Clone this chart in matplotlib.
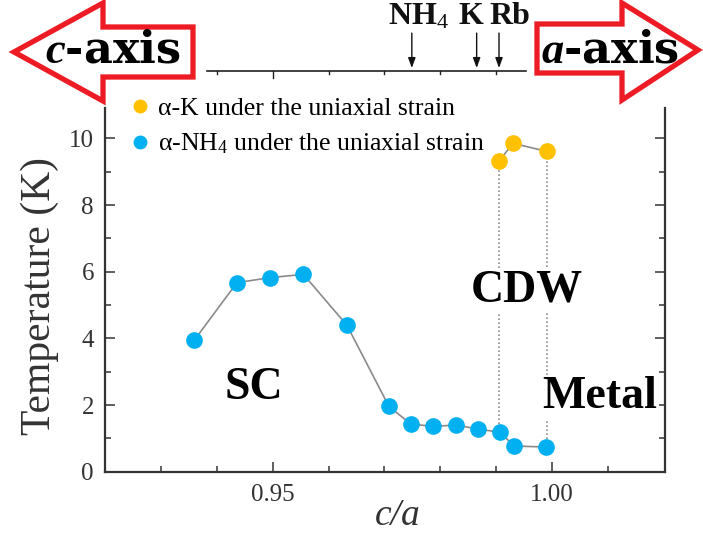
import numpy as np
import matplotlib
matplotlib.use('Agg')
import matplotlib.pyplot as plt
from matplotlib.patches import Polygon
from matplotlib.lines import Line2D

plt.rcParams['font.family'] = ['Liberation Serif', 'DejaVu Serif']
plt.rcParams['mathtext.fontset'] = 'custom'
plt.rcParams['mathtext.rm'] = 'Liberation Serif'
plt.rcParams['mathtext.it'] = 'Liberation Serif:italic:bold'

# data
nh4_ca = [0.9360, 0.9436, 0.9495, 0.9555, 0.9633, 0.9708, 0.9747,
          0.9787, 0.9828, 0.9868, 0.9907, 0.9932, 0.9989]
nh4_T = [3.95, 5.67, 5.82, 5.92, 4.39, 1.96, 1.43,
         1.36, 1.40, 1.28, 1.18, 0.77, 0.74]
k_ca = [0.9905, 0.9930, 0.9990]
k_T = [9.32, 9.85, 9.61]

# CDW boundaries: (c/a, lower T, upper T)
cdw_ca = [k_ca[0], k_ca[2]]
cdw_low = [nh4_T[10], nh4_T[12]]
cdw_high = [k_T[0], k_T[2]]

ion_names = ['NH$_4$', 'K', 'Rb']
ion_ca = [0.9749, 0.9865, 0.9905]
ion_dx = [5, -4, 8]   # label offsets in points

blue = '#00B0F0'
orange = '#FFC000'
red = '#ED1C24'

W, H = 703, 537
fig = plt.figure(figsize=(W / 100, H / 100), dpi=100)
ax = fig.add_axes([105 / W, 1 - 471.7 / H, 560 / W, 363.7 / H])

# dotted phase boundaries
ax.vlines(cdw_ca, cdw_low, cdw_high, colors='#8c8c8c', linestyles=(0, (1, 1.4)),
          linewidth=1.2, zorder=1)

ax.plot(nh4_ca, nh4_T, '-', color='#8a8a8a', lw=1.2, zorder=2)
ax.plot(k_ca, k_T, '-', color='#8a8a8a', lw=1.2, zorder=2)
ax.plot(nh4_ca, nh4_T, 'o', color=blue, ms=12, mec='none', zorder=4)
ax.plot(k_ca, k_T, 'o', color=orange, ms=12, mec='none', zorder=4)

# phase labels
box = dict(facecolor='white', edgecolor='none', pad=1)
ax.text(0.9466, 2.51, 'SC', fontsize=33, fontweight='bold', ha='center', va='center')
ax.text(0.9954, 5.45, 'CDW', fontsize=33, fontweight='bold', ha='center', va='center',
        bbox=box, zorder=3)
ax.text(1.0086, 2.24, 'Metal', fontsize=33, fontweight='bold', ha='center', va='center',
        bbox=box, zorder=3)

ax.set_xlim(0.92, 1.0202)
ax.set_ylim(0, 10.91)
ax.set_xticks([0.95, 1.00])
ax.set_xticklabels(['0.95', '1.00'])
ax.set_xticks(np.arange(0.93, 1.015, 0.01), minor=True)
ax.set_yticks([0, 2, 4, 6, 8, 10])
ax.set_yticks(np.arange(1, 11, 2), minor=True)
ax.tick_params(which='both', direction='in', width=1.1, color='#333333',
               labelsize=18, labelcolor='#333333', right=True)
ax.tick_params(which='major', length=7)
ax.tick_params(which='minor', length=4)
ax.tick_params(axis='x', pad=9)
ax.tick_params(axis='y', pad=8)
for lab in ax.get_xticklabels() + ax.get_yticklabels():
    lab.set_family('Liberation Serif')
ax.spines['top'].set_visible(False)
for s in ['left', 'right', 'bottom']:
    ax.spines[s].set_linewidth(1.6)
    ax.spines[s].set_color('#333333')

ax.set_ylabel('Temperature (K)', fontsize=30, color='#333333')
ax.yaxis.set_label_coords(-0.082, 0.483)
ax.set_xlabel('c/a', fontsize=27, fontstyle='italic', color='#333333',
              family='Liberation Serif')
ax.xaxis.set_label_coords(0.523, -0.074)

# legend
handles = [Line2D([], [], ls='none', marker='o', ms=10, color=orange, mec='none'),
           Line2D([], [], ls='none', marker='o', ms=10, color=blue, mec='none')]
labels = ['\u03b1-K under the uniaxial strain',
          '\u03b1-NH$_4$ under the uniaxial strain']
ax.legend(handles, labels, loc='upper left', bbox_to_anchor=(0.045, 1.03),
          frameon=False, fontsize=18.5, borderpad=0, borderaxespad=0,
          handlelength=0.8, handletextpad=0.3, labelspacing=0.45)

# small c/a scale strip on top with the ion positions
tr = ax.get_xaxis_transform()
ax.plot([0.9382, 0.9954], [1.1015, 1.1015], color='#222222', lw=1.2,
        transform=tr, clip_on=False)
for t in np.arange(0.94, 0.995, 0.01):
    ln = 0.02 if abs(t - 0.95) < 1e-6 else 0.008
    ax.plot([t, t], [1.1015, 1.1015 - ln], color='#222222', lw=1.0,
            transform=tr, clip_on=False)
for name, x, dx in zip(ion_names, ion_ca, ion_dx):
    ax.annotate('', xy=(x, 1.110), xytext=(x, 1.206), xycoords=tr, textcoords=tr,
                arrowprops=dict(arrowstyle='-|>,head_length=0.6,head_width=0.22',
                                color='#111111', lw=1.0, shrinkA=0, shrinkB=0),
                annotation_clip=False)
    ax.annotate(name, xy=(x, 1.252), xycoords=tr, xytext=(dx, 0),
                textcoords='offset points', ha='center', va='center',
                fontsize=23, fontweight='bold', color='#111111',
                annotation_clip=False)


# red outlined arrows, in figure pixels
def px(pts):
    return [(x / W, 1 - y / H) for x, y in pts]


left_arrow = [(14, 52), (103, 3), (103, 27), (193, 27), (193, 77), (103, 77), (103, 101)]
right_arrow = [(537, 24), (622, 24), (622, 3), (698, 50), (622, 100), (622, 73), (537, 73)]
for pts in [left_arrow, right_arrow]:
    fig.add_artist(Polygon(px(pts), closed=True, facecolor='white', edgecolor=red,
                           lw=3.8, joinstyle='miter', transform=fig.transFigure))

fig.text(113 / W, 1 - 50 / H, '$c$-axis', fontsize=32, fontweight='bold',
         family='DejaVu Serif', ha='center', va='center')
fig.text(610 / W, 1 - 50 / H, '$a$-axis', fontsize=32, fontweight='bold',
         family='DejaVu Serif', ha='center', va='center')

fig.savefig('out.png', dpi=100)
